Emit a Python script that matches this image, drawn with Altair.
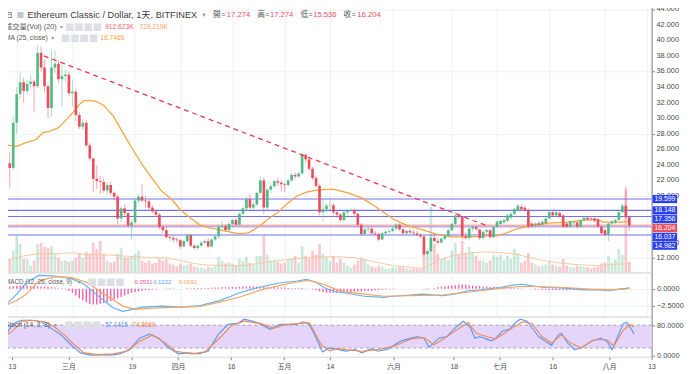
import altair as alt
import pandas as pd

FONT = "Liberation Sans, Noto Sans CJK TC, sans-serif"

# ---------------- candle data: ETC/USD daily (Bitfinex), 2018-02-11 .. 2018-08-08 ----------------
FIRST_DAY = "2018-02-11"
DAY_ZERO = "2018-02-13"

opens = [24.2, 23.6, 29.4, 33.1, 34.6, 33.5, 34.4, 34.7, 34.1, 38.4,
         36.5, 34.1, 31.3, 36.5, 37.0, 35.0, 35.4, 35.6, 33.2, 33.4,
         30.4, 28.9, 29.4, 26.5, 24.8, 22.2, 21.9, 21.8, 20.7, 21.4,
         20.4, 19.9, 17.1, 18.4, 17.8, 16.2, 16.6, 19.4, 19.9, 19.4,
         19.3, 18.5, 18.0, 17.6, 16.0, 15.6, 14.7, 14.6, 14.4, 14.3,
         13.5, 14.2, 15.0, 13.6, 13.3, 13.6, 14.0, 14.2, 13.5, 14.4,
         14.8, 16.0, 16.1, 15.6, 16.4, 16.9, 16.3, 17.7, 18.4, 19.6,
         18.5, 18.9, 20.4, 22.0, 18.5, 20.8, 21.25, 21.9, 21.7, 21.5,
         21.4, 22.0, 22.7, 22.5, 22.9, 25.3, 24.7, 23.5, 22.3, 21.3,
         17.9, 18.3, 18.75, 18.8, 17.9, 17.6, 16.9, 17.9, 18.1, 18.2,
         17.7, 16.3, 15.1, 15.7, 15.8, 15.2, 15.1, 14.4, 15.2, 15.4,
         15.5, 15.8, 16.3, 15.7, 15.2, 15.5, 15.3, 15.2, 15.0, 14.8,
         12.5, 12.9, 14.6, 14.2, 14.0, 14.5, 14.9, 15.6, 16.4, 17.5,
         17.3, 14.8, 14.6, 15.8, 16.0, 15.7, 14.6, 15.4, 15.6, 14.7,
         16.0, 16.4, 16.6, 16.8, 17.2, 17.7, 18.1, 18.6, 18.5, 18.2,
         16.45, 16.2, 16.5, 16.3, 16.5, 17.1, 17.9, 17.5, 17.8, 17.5,
         16.45, 16.05, 16.5, 16.6, 16.05, 16.9, 17.2, 17.1, 17.1, 17.0,
         16.05, 15.6, 15.0, 16.45, 16.6, 16.9, 17.9, 18.75, 17.274]
highs = [25.6, 30.2, 34.0, 35.9, 35.2, 34.9, 35.5, 35.0, 39.4, 39.2,
         37.5, 34.5, 38.7, 38.7, 37.4, 36.9, 36.2, 36.0, 35.0, 33.8,
         30.8, 29.8, 29.8, 26.8, 25.0, 24.0, 22.6, 22.3, 21.8, 21.9,
         20.6, 20.1, 18.7, 18.9, 18.0, 16.9, 19.7, 20.2, 21.5, 20.0,
         19.5, 18.8, 18.2, 17.8, 16.2, 16.0, 15.0, 14.9, 14.7, 14.5,
         14.4, 15.2, 15.1, 13.8, 13.8, 14.2, 14.4, 14.6, 14.5, 14.9,
         16.3, 16.8, 16.4, 16.6, 17.1, 17.2, 17.9, 18.6, 19.9, 20.2,
         19.4, 20.6, 22.5, 22.4, 21.0, 21.6, 22.1, 22.3, 22.0, 21.8,
         22.2, 23.0, 23.0, 23.1, 25.6, 25.5, 24.9, 23.8, 22.6, 21.5,
         19.6, 19.0, 19.8, 19.1, 18.1, 17.8, 18.1, 18.3, 18.5, 18.4,
         17.9, 16.5, 15.9, 16.1, 16.0, 15.5, 15.3, 15.4, 15.6, 15.7,
         16.0, 16.5, 16.5, 15.9, 15.7, 15.8, 15.7, 15.5, 15.2, 14.9,
         13.2, 15.0, 15.2, 14.6, 14.7, 15.1, 15.8, 16.6, 17.9, 17.8,
         17.4, 15.3, 16.1, 16.2, 16.2, 15.8, 15.6, 15.8, 15.8, 16.1,
         16.9, 17.0, 17.1, 17.7, 17.9, 18.5, 19.0, 18.9, 18.7, 18.4,
         16.7, 16.6, 16.8, 16.8, 17.3, 18.2, 18.3, 18.2, 18.1, 17.7,
         16.6, 16.9, 16.8, 16.8, 17.0, 17.4, 17.4, 17.3, 17.3, 17.2,
         16.2, 15.8, 16.6, 16.9, 17.1, 18.1, 19.0, 21.2, 17.274]
lows = [21.0, 23.3, 28.0, 32.5, 32.0, 33.0, 33.8, 30.8, 33.8, 36.0,
        33.3, 30.0, 30.2, 35.8, 34.5, 31.5, 34.6, 32.8, 31.5, 29.6,
        28.6, 28.5, 26.2, 24.5, 20.5, 20.9, 20.3, 20.4, 20.2, 20.1,
        19.4, 16.3, 16.6, 17.5, 16.0, 14.4, 16.4, 19.1, 19.2, 18.4,
        18.2, 17.8, 17.4, 15.7, 15.2, 14.5, 14.2, 14.0, 14.0, 13.2,
        13.4, 14.0, 13.4, 13.1, 13.0, 13.5, 13.8, 13.3, 13.4, 14.2,
        14.5, 15.7, 15.5, 15.5, 16.0, 16.1, 16.2, 17.5, 18.2, 18.3,
        18.2, 18.7, 20.2, 17.7, 18.1, 20.4, 21.0, 21.2, 20.6, 20.5,
        21.2, 21.8, 22.2, 22.3, 22.8, 24.3, 23.2, 22.0, 21.0, 17.5,
        16.7, 17.9, 18.2, 17.6, 17.2, 16.7, 16.7, 17.6, 17.9, 17.5,
        16.1, 14.8, 14.8, 15.4, 15.0, 14.9, 14.2, 14.3, 15.0, 15.1,
        15.3, 15.6, 15.5, 15.0, 14.9, 15.1, 15.0, 14.8, 14.6, 12.2,
        12.2, 12.8, 14.0, 13.8, 13.9, 14.3, 14.7, 15.5, 16.2, 17.0,
        14.4, 14.4, 14.3, 15.4, 15.6, 14.3, 14.4, 14.9, 14.5, 14.6,
        15.9, 16.2, 16.4, 16.6, 17.0, 17.5, 18.0, 18.1, 18.0, 15.8,
        15.9, 15.9, 16.1, 16.1, 16.3, 17.0, 17.3, 17.3, 17.2, 15.9,
        15.9, 15.9, 16.2, 15.8, 15.9, 16.7, 16.8, 16.8, 16.6, 15.9,
        15.0, 14.8, 14.2, 16.2, 16.4, 16.8, 17.8, 17.0, 15.536]
closes = [23.6, 29.4, 33.1, 34.6, 33.5, 34.4, 34.7, 34.1, 38.4, 36.5,
          34.1, 31.3, 36.5, 37.0, 35.0, 35.4, 35.6, 33.2, 33.4, 30.4,
          28.9, 29.4, 26.5, 24.8, 22.2, 21.9, 21.8, 20.7, 21.4, 20.4,
          19.9, 17.1, 18.4, 17.8, 16.2, 16.6, 19.4, 19.9, 19.4, 19.3,
          18.5, 18.0, 17.6, 16.0, 15.6, 14.7, 14.6, 14.4, 14.3, 13.5,
          14.2, 15.0, 13.6, 13.3, 13.6, 14.0, 14.2, 13.5, 14.4, 14.8,
          16.0, 16.1, 15.6, 16.4, 16.9, 16.3, 17.7, 18.4, 19.6, 18.5,
          18.9, 20.4, 22.0, 18.5, 20.8, 21.25, 21.9, 21.7, 21.5, 21.4,
          22.0, 22.7, 22.5, 22.9, 25.3, 24.7, 23.5, 22.3, 21.3, 17.9,
          18.3, 18.75, 18.8, 17.9, 17.6, 16.9, 17.9, 18.1, 18.2, 17.7,
          16.3, 15.1, 15.7, 15.8, 15.2, 15.1, 14.4, 15.2, 15.4, 15.5,
          15.8, 16.3, 15.7, 15.2, 15.5, 15.3, 15.2, 15.0, 14.8, 12.5,
          12.9, 14.6, 14.2, 14.0, 14.5, 14.9, 15.6, 16.4, 17.5, 17.3,
          14.8, 14.6, 15.8, 16.0, 15.7, 14.6, 15.4, 15.6, 14.7, 16.0,
          16.7, 16.8, 16.9, 17.5, 17.7, 18.3, 18.75, 18.3, 18.2, 16.05,
          16.1, 16.45, 16.3, 16.7, 17.1, 17.9, 17.5, 17.9, 17.4, 16.05,
          16.05, 16.7, 16.6, 16.05, 16.9, 17.2, 17.0, 17.0, 16.8, 16.05,
          15.2, 15.0, 16.45, 16.7, 16.9, 17.9, 18.75, 17.274, 16.204]
volumes_k = [1160, 1830, 3070, 2400, 1160, 1160, 580, 1000, 2400, 2490,
             2160, 2080, 2240, 1580, 1250, 1000, 1000, 910, 1000, 1250,
             1580, 1250, 1740, 1580, 2490, 2000, 2660, 1580, 1000, 830,
             910, 1580, 2080, 1250, 1250, 1410, 1580, 1830, 1000, 830,
             1000, 750, 830, 1160, 1000, 1160, 750, 660, 500, 750,
             580, 660, 750, 500, 415, 415, 330, 500, 415, 500,
             1330, 1000, 750, 830, 750, 580, 1160, 1000, 1330, 830,
             660, 1410, 1410, 3150, 1500, 1000, 1080, 910, 750, 830,
             1080, 1160, 1410, 830, 2240, 1410, 1160, 1830, 1500, 2400,
             1580, 1250, 1000, 1410, 830, 1160, 830, 580, 415, 660,
             1000, 1250, 1080, 660, 500, 415, 580, 500, 330, 330,
             415, 415, 500, 415, 330, 250, 330, 330, 250, 2080,
             1410, 5560, 2400, 1580, 1160, 1250, 1080, 1830, 2490, 1500,
             2660, 1660, 2160, 1660, 1410, 1000, 1000, 830, 1000, 1500,
             1330, 1500, 1080, 1410, 1160, 2000, 1660, 830, 1000, 1660,
             830, 660, 500, 580, 660, 1000, 660, 580, 500, 1160,
             580, 500, 415, 580, 500, 500, 415, 330, 415, 500,
             750, 830, 1410, 830, 1080, 2000, 1500, 7050, 912.6]
macd_hist = [0.3, 0.35, 0.4, 0.45, 0.45, 0.4, 0.4, 0.35, 0.35, 0.3,
             0.3, 0.25, 0.2, 0.15, 0.1, 0.05, -0.1, -0.3, -0.6, -1.0,
             -1.4, -1.7, -2.0, -2.2, -2.3, -2.3, -2.2, -2.1, -2.0, -1.8,
             -1.6, -1.4, -1.2, -1.0, -0.8, -0.6, -0.5, -0.4, -0.3, -0.2,
             -0.2, -0.1, -0.1, 0, 0, 0.05, 0.05, 0.05, 0, 0,
             0, 0.05, 0.05, 0.1, 0.1, 0.1, 0.1, 0.1, 0.15, 0.15,
             0.15, 0.2, 0.2, 0.2, 0.25, 0.25, 0.3, 0.3, 0.3, 0.3,
             0.3, 0.3, 0.25, 0.25, 0.2, 0.2, 0.2, 0.2, 0.15, 0.15,
             0.1, 0.1, 0.1, 0.1, 0.1, 0.05, 0, -0.1, -0.2, -0.4,
             -0.5, -0.6, -0.6, -0.6, -0.6, -0.6, -0.55, -0.5, -0.5, -0.45,
             -0.4, -0.4, -0.35, -0.3, -0.3, -0.25, -0.2, -0.15, -0.1, -0.1,
             -0.05, -0.05, 0, 0, 0, 0, 0, 0, 0, -0.1,
             -0.1, 0, 0.1, 0.2, 0.3, 0.35, 0.4, 0.45, 0.5, 0.55,
             0.6, 0.55, 0.5, 0.45, 0.4, 0.35, 0.3, 0.3, 0.25, 0.25,
             0.2, 0.2, 0.2, 0.15, 0.15, 0.1, 0.1, 0.05, 0, 0,
             -0.05, -0.1, -0.1, -0.15, -0.15, -0.2, -0.2, -0.2, -0.2, -0.25,
             -0.25, -0.2, -0.2, -0.2, -0.15, -0.15, -0.1, -0.1, -0.1, -0.05,
             -0.05, -0.1, -0.1, -0.05, 0, 0.02, 0.04, 0.06, 0.0531]

# ---------------- indicator lines (days counted from 2018-02-13) ----------------
ma25_days = [-2.8, 0, 2.8, 5.6, 7.5, 9.2, 11.9, 14.7, 16.7, 18, 19.4, 21.4, 23, 25, 27.8, 30.5,
             33.3, 36.1, 38.9, 41.6, 44.4, 47.2, 50, 52.7, 55.5, 58.3, 61.1, 63.9, 66.6, 69.4,
             72.2, 75, 77.7, 80.5, 83.3, 86.1, 90.8, 95.2, 99.1, 102.7, 105.5, 108.3, 111.9,
             116.6, 121.3, 124.9, 130.5, 135.2, 138, 140.8, 143.5, 147.1, 152.7, 158.2, 163,
             166.6, 168.5, 171.3, 174.1, 176]
ma25_vals = [26.54, 26.38, 26.88, 27.25, 28.13, 28.25, 28.75, 30.0, 31.0, 31.75, 32.25, 32.25,
             32.13, 31.63, 30.25, 28.13, 26.0, 24.0, 22.25, 20.63, 19.63, 18.13, 17.13, 16.25,
             15.88, 15.63, 15.38, 15.13, 15.25, 16.0, 17.0, 17.88, 19.0, 20.0, 20.5, 20.75,
             20.88, 20.38, 19.75, 18.75, 17.88, 17.0, 16.25, 15.63, 15.0, 14.75, 14.75, 14.88,
             14.88, 15.25, 15.75, 16.13, 16.5, 16.63, 16.88, 17.0, 16.63, 16.63, 16.63, 16.7465]
vol_ma_days = [-2.8, 2, 6.4, 11, 16, 20, 25, 30, 34, 39, 43, 47, 53, 58, 65, 69, 75, 80.5, 86,
               91.6, 97, 102.7, 108, 114, 116.6, 121, 125, 130.5, 135, 140, 144, 150, 155, 161,
               166.6, 171, 175, 176]
vol_ma_vals = [1000, 1400, 1580, 1580, 1660, 1500, 1500, 1400, 1330, 1250, 1250, 1000, 660, 580,
               580, 750, 1000, 1160, 1330, 1330, 1250, 910, 580, 415, 330, 1000, 1400, 1660,
               1740, 1660, 1500, 1080, 830, 660, 580, 660, 750, 728.2]
macd_days = [-2.8, 0, 2.8, 6.4, 11.1, 15.8, 19.4, 22.2, 25, 27.8, 30.5, 33.3, 36.1, 41.6, 47.2,
             52.7, 58.3, 63.9, 69.4, 75, 80.5, 83.3, 86.1, 88.8, 91.6, 94.4, 99.9, 105.5, 108.3,
             113, 116.6, 122.2, 125.8, 129.6, 133.3, 138.8, 142.4, 145.2, 148, 151.9, 157.4, 163,
             167.4, 170.2, 173, 174.9, 176]
macd_vals = [-2.21, -0.79, 0.89, 1.93, 1.83, 1.46, 0.64, -0.54, -1.74, -2.83, -3.31, -3.03,
             -2.69, -2.54, -2.69, -2.46, -1.74, -0.64, 0.17, 0.79, 1.11, 1.36, 0.89, 0.03, -0.46,
             -0.64, -1.11, -1.26, -1.11, -0.93, -0.79, -1.03, -0.79, -0.31, -0.17, 0.17, 0.5,
             0.64, 0.4, 0.17, 0.07, -0.17, -0.17, -0.31, -0.07, 0.03, 0.1222]
signal_days = [-2.8, 0, 2.8, 6.4, 11.1, 15.8, 20.3, 25, 30.5, 34.2, 38.9, 47.2, 52.7, 58.3, 63.9,
               69.4, 75, 80.5, 84.1, 88, 91.6, 94.4, 99.9, 105.5, 113, 122.2, 127.7, 133.3,
               138.8, 144.4, 149.9, 157.4, 164.6, 170.2, 174.9, 176]
signal_vals = [-2.36, -1.74, -0.79, 1.11, 1.74, 1.6, 0.89, -0.79, -2.54, -3.03, -2.83, -2.69,
               -2.6, -1.97, -1.26, -0.31, 0.4, 0.97, 1.21, 0.64, -0.07, -0.46, -0.79, -1.11,
               -1.03, -0.93, -0.64, -0.31, 0.03, 0.31, 0.31, 0.17, -0.07, -0.17, -0.07, 0.0692]
stoch_k_days = [-2.8, -1.4, 0, 1.4, 2.8, 5.6, 8.3, 11.1, 13.9, 16.7, 19.4, 22.2, 25, 27.8, 30.5,
                33.3, 36.1, 38.9, 41.6, 44.4, 47.2, 50, 52.7, 55.5, 58.3, 61.1, 63.9, 65.7, 69.4,
                73.1, 75.9, 80.5, 82.4, 84.2, 86.1, 87.9, 89.8, 92.5, 94.4, 97.2, 99, 101.8,
                103.6, 106.4, 108.3, 110.1, 112.9, 114.7, 116.6, 118, 120.8, 123.1, 125.8, 127.7,
                129.6, 131, 132.3, 134.2, 135.6, 136.9, 138.8, 140.7, 142.5, 143.9, 145.8, 147.6,
                149, 150.8, 152.7, 154.6, 155.5, 157.3, 159.2, 161, 163.8, 166.6, 168.4, 169.8,
                171.2, 173, 174, 175.4, 176]
stoch_k_vals = [45.9, 58.7, 80, 88.7, 92.8, 92.8, 88.7, 71.5, 54.4, 28.7, 7.4, 1.5, 3.1, 1.5,
                4.9, 15.9, 45.9, 56.2, 45.9, 20.3, 4.9, 7.4, 4.9, 11.8, 54.4, 81.8, 84.4, 95.4,
                86.9, 69, 81.8, 81.8, 88.7, 81.8, 45.9, 10, 20.3, 15.9, 12, 15.9, 7.4, 18.5, 11.8,
                17.2, 28.7, 39, 45.9, 50.2, 45.9, 22, 45.9, 50.2, 75.9, 90.2, 75.9, 45.9, 50.2,
                44.1, 39, 45.9, 64.6, 68.9, 86.9, 95.4, 90.2, 67.2, 50.2, 39, 27.2, 54.4, 58.7,
                33, 15.9, 20.3, 37.4, 45.9, 37.4, 15.9, 45.9, 84.4, 86.9, 67.2, 57.1415]
stoch_d_days = [-2.8, 0, 2.8, 5.6, 9.3, 12, 14.8, 17.6, 20.4, 24.1, 28.7, 32.4, 36.1, 39.8, 43.5,
                46.3, 50.9, 54.6, 59.2, 62, 65.7, 70.3, 74, 76.8, 81.4, 84.2, 87.5, 89.8, 92.5,
                94.4, 99, 103.6, 108.3, 112.9, 116.6, 119.4, 122.2, 125.8, 129.1, 131.4, 134.2,
                136.9, 140.7, 144.4, 147.1, 149.9, 152.7, 155.5, 158.2, 161, 164.7, 168.4, 170.3,
                173, 174.9, 176]
stoch_d_vals = [47, 63, 90, 92.8, 88.7, 75.9, 54.4, 28.7, 7.4, 3.1, 4.9, 11.8, 37.4, 54.4, 33,
                11.8, 4.9, 10, 50.2, 78.4, 90.2, 84.4, 71.5, 80, 84.4, 86, 28.7, 13.4, 18.5, 15.9,
                11.8, 15.9, 25.4, 44.1, 47.5, 28.7, 44.1, 67.2, 86.9, 58.7, 50.2, 44.1, 67.2,
                88.7, 84.4, 50.2, 33, 54.4, 33, 20.3, 41.7, 41.7, 25.4, 67.2, 81.8, 74.8689]

# ---------------- drawings ----------------
level_prices = [19.599, 18.148, 17.356, 16.037, 14.982]
last_price = 16.204
trend_days = [7.8, 135.5]
trend_prices = [38.0, 16.1]
price_ticks = list(range(12, 45, 2))

tick_dates = ["2018-02-13", "2018-03-01", "2018-03-19", "2018-04-01", "2018-04-16", "2018-05-01",
              "2018-05-14", "2018-06-01", "2018-06-18", "2018-07-01", "2018-07-16", "2018-08-01",
              "2018-08-13"]
tick_labels = ["13", "三月", "19", "四月", "16", "五月", "14", "六月", "18", "七月", "16", "八月", "13"]

# ---------------- tables ----------------
day0 = pd.Timestamp(DAY_ZERO)
dates = pd.date_range(FIRST_DAY, periods=len(closes), freq="D")
days = [(d - day0).days for d in dates]
candles = pd.DataFrame({"day": days, "open": opens, "high": highs, "low": lows,
                        "close": closes, "vol": volumes_k, "hist": macd_hist})
candles["dir"] = ["up" if c >= o else "down" for o, c in zip(opens, closes)]
tick_days = [(pd.Timestamp(t) - day0).days for t in tick_dates]

ma_df = pd.DataFrame({"day": ma25_days, "v": ma25_vals})
vma_df = pd.DataFrame({"day": vol_ma_days, "v": vol_ma_vals})
macd_df = pd.DataFrame({"day": macd_days, "v": macd_vals})
sig_df = pd.DataFrame({"day": signal_days, "v": signal_vals})
k_df = pd.DataFrame({"day": stoch_k_days, "v": stoch_k_vals})
d_df = pd.DataFrame({"day": stoch_d_days, "v": stoch_d_vals})
trend_df = pd.DataFrame({"day": trend_days, "p": trend_prices})
lvl_df = pd.DataFrame({"p": level_prices})
last_df = pd.DataFrame({"p": [last_price]})

# price tags on the axis: stacked downward so that they never overlap
tags = sorted([(p, "level") for p in level_prices] + [(last_price, "last")], reverse=True)
TAG_STEP = 9 / 7.93  # 9 px in price units
pos, prev = [], None
for p, kind in tags:
    q = p if prev is None else min(p, prev - TAG_STEP)
    pos.append(q)
    prev = q
tag_df = pd.DataFrame({"p": [t[0] for t in tags], "pos": pos, "kind": [t[1] for t in tags]})
tag_df["txt"] = tag_df["p"].map(lambda v: f"{v:.3f}")
tag_df["lo"] = tag_df["pos"] - 0.53
tag_df["hi"] = tag_df["pos"] + 0.53

# axis price labels; those lying fully under a tag are hidden, as on the reference
visible_ticks = [t for t in price_ticks if all(abs(t - q) > 0.38 for q in pos)]
pt_df = pd.DataFrame({"p": visible_ticks})
pt_df["txt"] = pt_df["p"].map(lambda v: f"{v:.3f}")

# ---------------- styling ----------------
W = 662
H_MAIN, H_MACD, H_STOCH = 273, 45, 41
UP, DOWN = "#53b987", "#eb4d5c"
GRID = "#eef1f6"
TXT = "#4a4a4a"
LBL = "#555555"
xs = alt.Scale(domain=[-2.78, 181], nice=False, zero=False)
ps = alt.Scale(domain=[10.17, 44.59], nice=False, zero=False)
vs = alt.Scale(domain=[0, 22660], nice=False, zero=True)
ms = alt.Scale(domain=[-4.07, 2.36], nice=False, zero=False)
ss = alt.Scale(domain=[-2.8, 102.3], nice=False, zero=False)
dir_scale = alt.Scale(domain=["up", "down"], range=[UP, DOWN])

def yaxis(values, fmt, labels=True):
    return alt.Axis(orient="right", values=values, format=fmt, title=None, grid=True,
                    gridColor=GRID, labels=labels, labelFontSize=7.5, labelColor=TXT,
                    labelFont=FONT, tickSize=3, tickColor="#8a8a8a", domainColor="#8a8a8a",
                    labelPadding=2, labelOverlap=False, zindex=0)

xgrid = alt.Axis(values=tick_days, grid=True, gridColor=GRID, labels=False, ticks=False,
                 domain=False, title=None, zindex=0)
labels_js = "[" + ",".join(f"'{t}'" for t in tick_labels) + "]"
days_js = "[" + ",".join(str(d) for d in tick_days) + "]"
xbottom = alt.Axis(values=tick_days, grid=True, gridColor=GRID, title=None,
                   labelExpr=f"{labels_js}[indexof({days_js}, datum.value)]",
                   labelFontSize=7, labelColor=TXT, labelFont=FONT, tickSize=3,
                   tickColor="#8a8a8a", domain=False, labelPadding=3, labelFlush=False,
                   labelOverlap=False, zindex=0)

ONE = pd.DataFrame({"k": [0]})

def txt(s, x, y, color=TXT, size=9, font=FONT):
    return alt.Chart(ONE).mark_text(text=s, align="left", baseline="middle", color=color,
                                    fontSize=size, font=font).encode(x=alt.value(x), y=alt.value(y))

BTN = "■■■■"
BTN_FONT = "DejaVu Sans"
BTN_C = "#dcdfe4"
ARW = "#9a9a9a"

# ---------------- main price panel ----------------
vol_bars = alt.Chart(candles).mark_bar(size=2.8, opacity=0.3).encode(
    x=alt.X("day:Q", scale=xs, axis=xgrid),
    y=alt.Y("vol:Q", scale=vs, axis=None),
    color=alt.Color("dir:N", scale=dir_scale, legend=None))
vol_ma = alt.Chart(vma_df).mark_line(color="#f8c9a0", strokeWidth=1, clip=True).encode(
    x=alt.X("day:Q", scale=xs), y=alt.Y("v:Q", scale=vs, axis=None))
vol_group = alt.layer(vol_bars, vol_ma)

lvl_lines = alt.Chart(lvl_df).mark_rule(color="#7373f2", strokeWidth=1.1).encode(
    y=alt.Y("p:Q", scale=ps, axis=yaxis(price_ticks, ".3f", labels=False)))
price_labels = alt.Chart(pt_df).mark_text(align="left", baseline="middle", fontSize=7.5,
                                          font=FONT, color=TXT).encode(
    x=alt.value(667), y=alt.Y("p:Q", scale=ps), text="txt:N")
last_line = alt.Chart(last_df).mark_rule(color="#f5b3b8", strokeWidth=2).encode(
    y=alt.Y("p:Q", scale=ps))
ma_line = alt.Chart(ma_df).mark_line(color="#f6a53c", strokeWidth=1.3, clip=True).encode(
    x=alt.X("day:Q", scale=xs), y=alt.Y("v:Q", scale=ps))
wicks = alt.Chart(candles).mark_rule(strokeWidth=1, opacity=0.5).encode(
    x=alt.X("day:Q", scale=xs), y=alt.Y("low:Q", scale=ps), y2="high:Q",
    color=alt.Color("dir:N", scale=dir_scale, legend=None))
bodies = alt.Chart(candles).mark_bar(size=2.7).encode(
    x=alt.X("day:Q", scale=xs), y=alt.Y("open:Q", scale=ps), y2="close:Q",
    color=alt.Color("dir:N", scale=dir_scale, legend=None))
trend = alt.Chart(trend_df).mark_line(color="#f0364a", strokeWidth=1.3, strokeDash=[5, 4]).encode(
    x=alt.X("day:Q", scale=xs), y=alt.Y("p:Q", scale=ps))
tag_blue = alt.Chart(tag_df[tag_df.kind == "level"]).mark_rect(color="#2a3ff0").encode(
    x=alt.value(663), x2=alt.value(688), y=alt.Y("hi:Q", scale=ps), y2="lo:Q")
tag_red = alt.Chart(tag_df[tag_df.kind == "last"]).mark_rect(color="#ef4f5c").encode(
    x=alt.value(663), x2=alt.value(688), y=alt.Y("hi:Q", scale=ps), y2="lo:Q")
tag_txt = alt.Chart(tag_df).mark_text(color="white", fontSize=7, font=FONT, align="center",
                                      baseline="middle").encode(
    x=alt.value(675.5), y=alt.Y("pos:Q", scale=ps), text="txt:N")

RED_T = "#ee4e5b"
HY = 11
header = [
    txt("⊟", 2, HY, "#777777", 10, "DejaVu Sans"),
    txt("■", 15, HY, "#c3c6cc", 8, "DejaVu Sans"),
    txt("Ethereum Classic / Dollar, 1天, BITFINEX", 26, HY, "#3c3c3c", 9.4),
    txt("▾", 204, HY, ARW, 7, "DejaVu Sans"),
    txt("開", 215, HY, LBL, 7.8), txt("=", 223.5, HY, LBL, 6.5), txt("17.274", 229, HY, RED_T, 7.8),
    txt("高", 260, HY, LBL, 7.8), txt("=", 268.5, HY, LBL, 6.5), txt("17.274", 273, HY, RED_T, 7.8),
    txt("低", 304, HY, LBL, 7.8), txt("=", 312.5, HY, LBL, 6.5), txt("15.536", 317, HY, RED_T, 7.8),
    txt("收", 348, HY, LBL, 7.8), txt("=", 356.5, HY, LBL, 6.5), txt("16.204", 362, HY, RED_T, 7.8),
    txt("成交量(Vol) (20)", 3, 23, LBL, 7.4),
    txt("▾", 59, 23, ARW, 6, "DejaVu Sans"),
    txt(BTN, 64, 23, BTN_C, 10, BTN_FONT),
    txt("912.623K", 105, 23, "#f0636f", 6.8), txt("728.219K", 140, 23, "#f7a35c", 6.8),
    txt("MA (25, close)", 3, 34, LBL, 6.8),
    txt("▾", 50, 34, ARW, 6, "DejaVu Sans"),
    txt(BTN, 60, 34, BTN_C, 10, BTN_FONT),
    txt("16.7465", 100, 34, "#f5a33a", 6.8),
]

price_group = alt.layer(lvl_lines, price_labels, last_line, ma_line, wicks, bodies, trend,
                        tag_blue, tag_red, tag_txt, *header)
main = alt.layer(vol_group, price_group).resolve_scale(y="independent").properties(
    width=W, height=H_MAIN)

# ---------------- MACD panel ----------------
hist = alt.Chart(candles).mark_bar(size=1.4, color="#f25ea8").encode(
    x=alt.X("day:Q", scale=xs, axis=xgrid),
    y=alt.Y("hist:Q", scale=ms, axis=yaxis([-2.5, 0], ".4f")))
macd_line = alt.Chart(macd_df).mark_line(color="#62b1f6", strokeWidth=1.2, clip=True).encode(
    x=alt.X("day:Q", scale=xs), y=alt.Y("v:Q", scale=ms))
sig_line = alt.Chart(sig_df).mark_line(color="#f7a560", strokeWidth=1.2, clip=True).encode(
    x=alt.X("day:Q", scale=xs), y=alt.Y("v:Q", scale=ms))
macd_txt = [
    txt("MACD (12, 26, close, 9)", 3, 10, LBL, 6.4),
    txt("▾", 77, 10, ARW, 6, "DejaVu Sans"),
    txt(BTN, 87, 10, BTN_C, 10, BTN_FONT),
    txt("0.0531", 135, 10, "#f0509a", 6),
    txt("0.1222", 154, 10, "#4aa3f0", 6),
    txt("0.0692", 180, 10, "#f5a05a", 6),
]
macd = alt.layer(hist, macd_line, sig_line, *macd_txt).properties(width=W, height=H_MACD)

# ---------------- Stochastic panel ----------------
band = alt.Chart(pd.DataFrame({"lo": [20], "hi": [80]})).mark_rect(color="#e6d5fb").encode(
    x=alt.value(0), x2=alt.value(W),
    y=alt.Y("hi:Q", scale=ss, axis=yaxis([0, 40, 80], ".4f")), y2="lo:Q")
band_lines = alt.Chart(pd.DataFrame({"v": [20, 80]})).mark_rule(
    color="#a3a3ad", strokeDash=[3, 3], strokeWidth=1).encode(y=alt.Y("v:Q", scale=ss))
k_line = alt.Chart(k_df).mark_line(color="#5b9cf6", strokeWidth=1.2, clip=True).encode(
    x=alt.X("day:Q", scale=xs, axis=xbottom), y=alt.Y("v:Q", scale=ss))
d_line = alt.Chart(d_df).mark_line(color="#f08b5b", strokeWidth=1.2, clip=True).encode(
    x=alt.X("day:Q", scale=xs), y=alt.Y("v:Q", scale=ss))
stoch_txt = [
    txt("Stoch (14, 3, 3)", 3, 9, LBL, 6.7),
    txt("▾", 53, 9, ARW, 6, "DejaVu Sans"),
    txt(BTN, 63, 9, BTN_C, 10, BTN_FONT),
    txt("57.1415", 105, 9, "#4f8ff0", 6.4),
    txt("74.8689", 133, 9, "#f08547", 6.4),
]
stoch = alt.layer(band, band_lines, k_line, d_line, *stoch_txt).properties(width=W, height=H_STOCH)

chart = alt.vconcat(main, macd, stoch, spacing=0, bounds="flush").properties(
    padding={"left": -8, "top": -8, "right": 0, "bottom": 0}
).configure_view(stroke="#a9acb3", strokeWidth=1).configure_axis(labelOverlap=False).configure(
    font=FONT, background="white")

chart.save("out.html", embed_options={"renderer": "svg", "actions": False})
